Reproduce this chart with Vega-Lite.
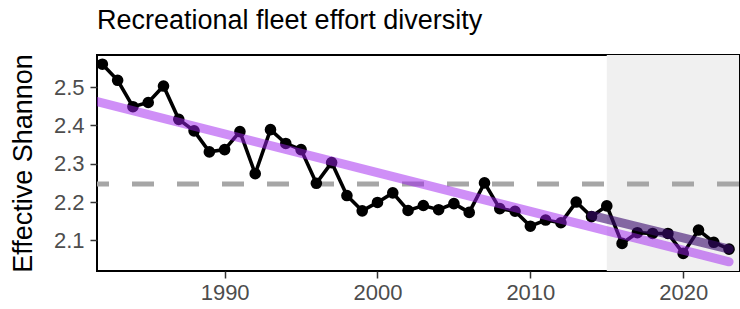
{
  "$schema": "https://vega.github.io/schema/vega-lite/v6.json",
  "width": 642,
  "height": 216,
  "autosize": {"type": "none"},
  "padding": {"left": 97, "top": 55, "right": 1, "bottom": 38},
  "background": "white",
  "title": {
    "text": "Recreational fleet effort diversity",
    "anchor": "start",
    "frame": "group",
    "font": "Liberation Sans",
    "fontSize": 27,
    "fontWeight": "normal",
    "color": "black",
    "offset": 19
  },
  "config": {
    "view": {"stroke": "black", "strokeWidth": 2},
    "axis": {
      "grid": false,
      "domain": false,
      "ticks": true,
      "tickColor": "#333333",
      "tickSize": 7,
      "tickWidth": 1.5,
      "labelFont": "Liberation Sans",
      "labelFontSize": 22,
      "labelColor": "#4d4d4d",
      "titleFont": "Liberation Sans",
      "titleFontSize": 27,
      "titleFontWeight": "normal",
      "titleColor": "black"
    }
  },
  "datasets": {
    "series": [
      {"year": 1982, "value": 2.560},
      {"year": 1983, "value": 2.518},
      {"year": 1984, "value": 2.449},
      {"year": 1985, "value": 2.460},
      {"year": 1986, "value": 2.503},
      {"year": 1987, "value": 2.416},
      {"year": 1988, "value": 2.386},
      {"year": 1989, "value": 2.331},
      {"year": 1990, "value": 2.337},
      {"year": 1991, "value": 2.384},
      {"year": 1992, "value": 2.274},
      {"year": 1993, "value": 2.389},
      {"year": 1994, "value": 2.353},
      {"year": 1995, "value": 2.337},
      {"year": 1996, "value": 2.249},
      {"year": 1997, "value": 2.303},
      {"year": 1998, "value": 2.217},
      {"year": 1999, "value": 2.177},
      {"year": 2000, "value": 2.199},
      {"year": 2001, "value": 2.224},
      {"year": 2002, "value": 2.178},
      {"year": 2003, "value": 2.191},
      {"year": 2004, "value": 2.180},
      {"year": 2005, "value": 2.196},
      {"year": 2006, "value": 2.173},
      {"year": 2007, "value": 2.250},
      {"year": 2008, "value": 2.183},
      {"year": 2009, "value": 2.176},
      {"year": 2010, "value": 2.137},
      {"year": 2011, "value": 2.153},
      {"year": 2012, "value": 2.146},
      {"year": 2013, "value": 2.200},
      {"year": 2014, "value": 2.162},
      {"year": 2015, "value": 2.190},
      {"year": 2016, "value": 2.092},
      {"year": 2017, "value": 2.120},
      {"year": 2018, "value": 2.118},
      {"year": 2019, "value": 2.118},
      {"year": 2020, "value": 2.066},
      {"year": 2021, "value": 2.127},
      {"year": 2022, "value": 2.095},
      {"year": 2023, "value": 2.077}
    ],
    "trend": [
      {"year": 1981.6, "value": 2.463},
      {"year": 2023, "value": 2.044}
    ],
    "recent": [
      {"year": 2014, "value": 2.165},
      {"year": 2023, "value": 2.077}
    ],
    "shade": [
      {"start": 2015, "end": 2030}
    ],
    "mean": [
      {"value": 2.247}
    ]
  },
  "layer": [
    {
      "data": {"name": "shade"},
      "mark": {"type": "rect", "color": "#f0f0f0", "clip": true},
      "encoding": {
        "x": {"field": "start", "type": "quantitative"},
        "x2": {"field": "end"}
      }
    },
    {
      "data": {"name": "mean"},
      "mark": {"type": "rule", "color": "#a6a6a6", "strokeWidth": 5, "strokeDash": [22, 23], "strokeDashOffset": 0},
      "encoding": {
        "y": {"field": "value", "type": "quantitative"}
      }
    },
    {
      "data": {"name": "series"},
      "mark": {"type": "line", "color": "black", "strokeWidth": 3.6, "clip": true},
      "encoding": {
        "x": {
          "field": "year",
          "type": "quantitative",
          "scale": {"domain": [1981.65, 2023.65], "nice": false, "zero": false},
          "axis": {"values": [1990, 2000, 2010, 2020], "format": "d", "title": null, "labelPadding": 4}
        },
        "y": {
          "field": "value",
          "type": "quantitative",
          "scale": {"domain": [2.02, 2.584], "nice": false, "zero": false},
          "axis": {"values": [2.1, 2.2, 2.3, 2.4, 2.5], "format": ".1f", "title": "Effective Shannon", "labelPadding": 6, "titlePadding": 16}
        }
      }
    },
    {
      "data": {"name": "series"},
      "mark": {"type": "point", "filled": true, "color": "black", "opacity": 1, "size": 135, "clip": true},
      "encoding": {
        "x": {"field": "year", "type": "quantitative"},
        "y": {"field": "value", "type": "quantitative"}
      }
    },
    {
      "data": {"name": "trend"},
      "mark": {"type": "line", "color": "#a020f0", "opacity": 0.5, "strokeWidth": 9, "strokeCap": "round", "clip": true},
      "encoding": {
        "x": {"field": "year", "type": "quantitative"},
        "y": {"field": "value", "type": "quantitative"}
      }
    },
    {
      "data": {"name": "recent"},
      "mark": {"type": "line", "color": "#3a0a6e", "opacity": 0.6, "strokeWidth": 9, "strokeCap": "round", "clip": true},
      "encoding": {
        "x": {"field": "year", "type": "quantitative"},
        "y": {"field": "value", "type": "quantitative"}
      }
    }
  ]
}
